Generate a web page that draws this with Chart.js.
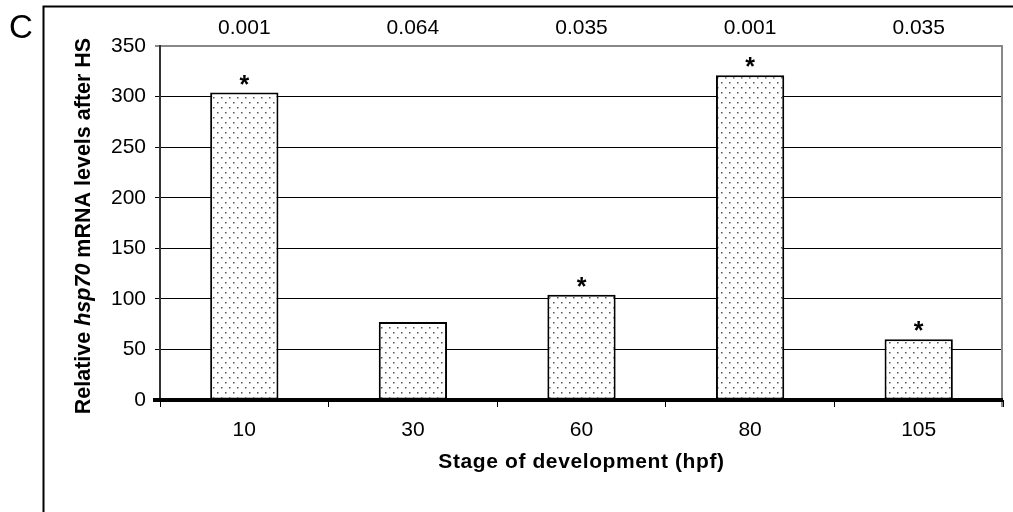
<!DOCTYPE html>
<html>
<head>
<meta charset="utf-8">
<script src="https://cdn.jsdelivr.net/npm/chart.js@4"></script>
<style>
html,body{margin:0;padding:0;background:#fff;}
#wrap{width:1013px;height:512px;position:relative;}
</style>
</head>
<body>
<div id="wrap"><canvas id="c"></canvas></div>
<script>
const categories = ['10', '30', '60', '80', '105'];
const values = [304, 77, 104, 321, 60];
const pValues = ['0.001', '0.064', '0.035', '0.001', '0.035'];
const significant = [true, false, true, true, true];
const yTicks = [0, 50, 100, 150, 200, 250, 300, 350];
const panelLabel = 'C';
const xTitle = 'Stage of development (hpf)';
const yTitleParts = [['Relative ', false], ['hsp70', true], [' mRNA levels after HS', false]];

const FONT = '"Liberation Sans", Arial, sans-serif';

function makePattern() {
  const p = document.createElement('canvas');
  p.width = 8; p.height = 10;
  const g = p.getContext('2d');
  g.fillStyle = '#fff';
  g.fillRect(0, 0, 8, 10);
  g.fillStyle = '#555';
  g.fillRect(1, 2, 1.5, 1.5);
  g.fillRect(5, 7, 1.5, 1.5);
  return document.getElementById('c').getContext('2d').createPattern(p, 'repeat');
}

const decor = {
  id: 'decor',
  beforeDraw(chart) {
    const ctx = chart.ctx;
    ctx.save();
    ctx.fillStyle = '#fff';
    ctx.fillRect(0, 0, chart.width, chart.height);
    ctx.strokeStyle = '#000';
    ctx.lineWidth = 2;
    ctx.beginPath();
    ctx.moveTo(43.5, chart.height);
    ctx.lineTo(43.5, 6.5);
    ctx.lineTo(chart.width, 6.5);
    ctx.stroke();
    ctx.fillStyle = '#000';
    ctx.font = '33px ' + FONT;
    ctx.textAlign = 'left';
    ctx.textBaseline = 'alphabetic';
    ctx.fillText(panelLabel, 9, 38);
    ctx.restore();
  },
  afterDatasetsDraw(chart) {
    const ctx = chart.ctx;
    const a = chart.chartArea;
    const y0 = chart.scales.y.getPixelForValue(0);
    ctx.save();
    ctx.strokeStyle = '#888';
    ctx.lineWidth = 2;
    ctx.beginPath();
    ctx.moveTo(a.right - 1, a.top);
    ctx.lineTo(a.right - 1, y0 + 7);
    ctx.stroke();
    ctx.strokeStyle = '#000';
    ctx.lineWidth = 4;
    ctx.beginPath();
    ctx.moveTo(153, y0);
    ctx.lineTo(a.right, y0);
    ctx.stroke();
    const meta = chart.getDatasetMeta(0);
    ctx.fillStyle = '#000';
    ctx.textAlign = 'center';
    meta.data.forEach((bar, i) => {
      ctx.font = '21px ' + FONT;
      ctx.textBaseline = 'middle';
      ctx.fillText(pValues[i], bar.x, 28);
      if (significant[i]) {
        ctx.font = 'bold 25px ' + FONT;
        ctx.textBaseline = 'alphabetic';
        ctx.fillText('*', bar.x, bar.y);
      }
    });
    ctx.font = 'bold 21px ' + FONT;
    ctx.textBaseline = 'middle';
    try { ctx.letterSpacing = '0.6px'; } catch (e) {}
    ctx.fillText(xTitle, (a.left + a.right) / 2, 462);
    try { ctx.letterSpacing = '0px'; } catch (e) {}
    ctx.translate(84, 226);
    ctx.rotate(-Math.PI / 2);
    ctx.textBaseline = 'middle';
    ctx.textAlign = 'left';
    let total = 0;
    const fonts = yTitleParts.map(([t, it]) => (it ? 'italic bold 21.5px ' : 'bold 21.5px ') + FONT);
    yTitleParts.forEach(([t], i) => { ctx.font = fonts[i]; total += ctx.measureText(t).width; });
    let x = -total / 2;
    yTitleParts.forEach(([t], i) => {
      ctx.font = fonts[i];
      ctx.fillText(t, x, 0);
      x += ctx.measureText(t).width;
    });
    ctx.restore();
  }
};

new Chart(document.getElementById('c'), {
  type: 'bar',
  data: {
    labels: categories,
    datasets: [{
      data: values,
      backgroundColor: makePattern(),
      borderColor: '#000',
      borderWidth: 2,
      borderSkipped: false,
      categoryPercentage: 1,
      barPercentage: 0.405
    }]
  },
  options: {
    responsive: true,
    maintainAspectRatio: false,
    animation: false,
    devicePixelRatio: 1,
    layout: { padding: { top: 46, right: 10, left: 0, bottom: 0 } },
    plugins: { legend: { display: false }, tooltip: { enabled: false } },
    scales: {
      x: {
        grid: {
          offset: true,
          drawOnChartArea: false,
          drawTicks: true,
          tickLength: 7,
          color: '#000',
          lineWidth: 1
        },
        border: { display: false },
        ticks: { color: '#000', font: { family: FONT, size: 21 }, padding: 11 },
        afterFit(s) { s.height = 112; }
      },
      y: {
        min: 0,
        max: 350,
        afterBuildTicks(s) { s.ticks = yTicks.map(v => ({ value: v })); },
        grid: {
          tickLength: 5,
          color(c) { return c.tick && c.tick.value === 350 ? '#888' : (c.tick && c.tick.value === 0 ? 'rgba(0,0,0,0)' : '#000'); },
          lineWidth(c) { return c.tick && c.tick.value === 350 ? 2 : 1; }
        },
        border: { display: true, color: '#333', width: 2 },
        ticks: { color: '#000', font: { family: FONT, size: 21 }, padding: 9 },
        afterFit(s) { s.width = 160; }
      }
    }
  },
  plugins: [decor]
});
</script>
</body>
</html>
